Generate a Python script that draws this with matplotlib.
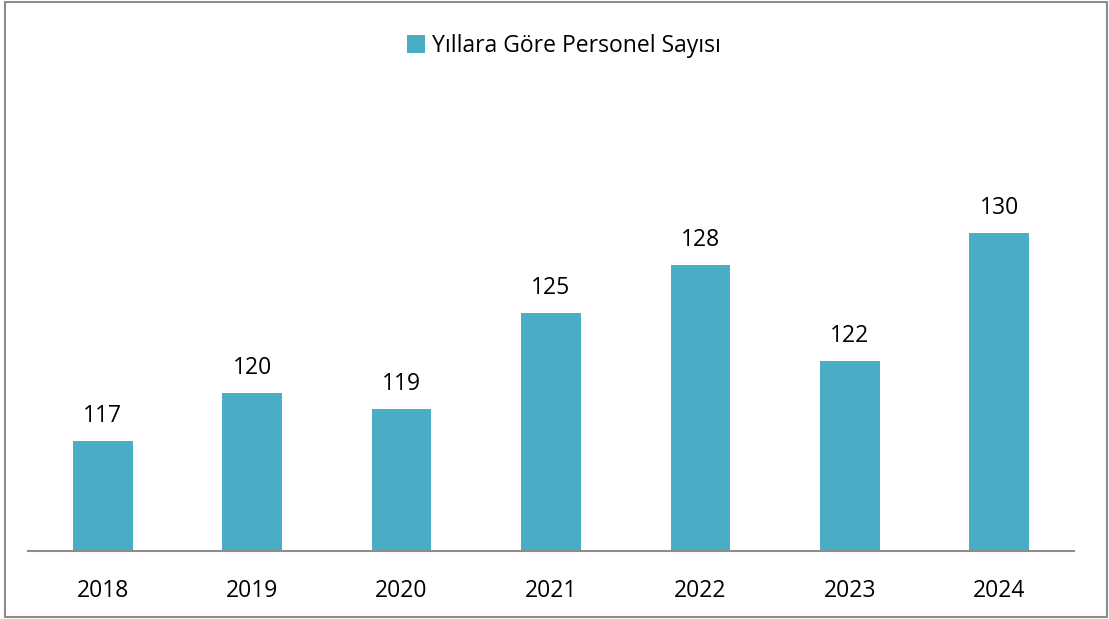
import matplotlib.pyplot as plt
from matplotlib.patches import Rectangle

plt.rcParams['font.family'] = ['Open Sans', 'DejaVu Sans']

years = ['2018', '2019', '2020', '2021', '2022', '2023', '2024']
personel = [117, 120, 119, 125, 128, 122, 130]
bar_color = '#4BACC6'

fig = plt.figure(figsize=(11.09, 6.19), dpi=100)
ax = fig.add_axes([28 / 1109, (619 - 551) / 619, (1074 - 28) / 1109, (551 - 71) / 619])

x = range(len(years))
bars = ax.bar(x, personel, width=0.4, color=bar_color, label='Yıllara Göre Personel Sayısı', zorder=2)
for xi, v in zip(x, personel):
    ax.annotate(str(v), (xi, v), xytext=(0, 9), textcoords='offset points',
                ha='center', va='bottom', fontsize=16.5, color='black')

ax.set_xlim(-0.5, len(years) - 0.5)
ax.set_ylim(110.1, 140.1)
ax.set_xticks(list(x))
ax.set_xticklabels(years, fontsize=16.5)
ax.tick_params(axis='x', length=0, pad=20)
ax.set_yticks([])
for side in ['left', 'right', 'top']:
    ax.spines[side].set_visible(False)
ax.spines['bottom'].set_color('#8c8c8c')
ax.spines['bottom'].set_linewidth(1.5)

fig.legend(handles=[bars], loc='center', bbox_to_anchor=(564 / 1109, 1 - 46 / 619),
           frameon=False, fontsize=16.5, handlelength=0.8, handleheight=0.8, handletextpad=0.3)

# outer frame
fig.patches.append(Rectangle((5 / 1109, 2 / 619), 1102 / 1109, 615 / 619, transform=fig.transFigure,
                             fill=False, edgecolor='#8c8c8c', linewidth=1.5))

fig.savefig('out.png', dpi=100)
